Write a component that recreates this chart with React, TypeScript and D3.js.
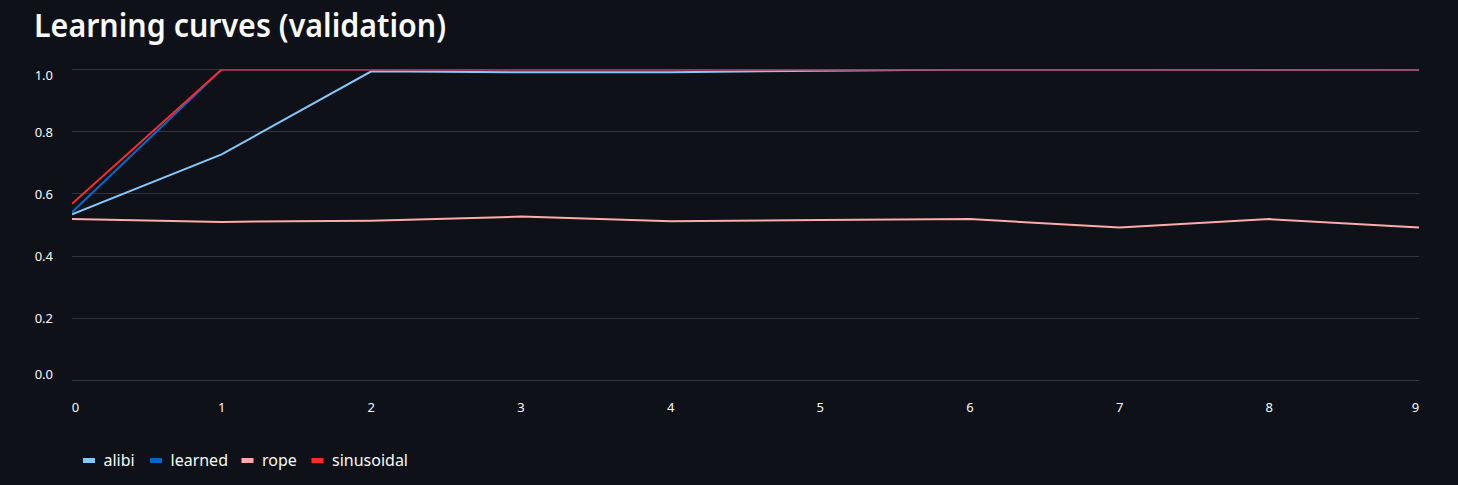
import React from "react";
import * as d3 from "d3";

const epochs = [0, 1, 2, 3, 4, 5, 6, 7, 8, 9];
const alibi = [0.534, 0.727, 0.994, 0.991, 0.991, 0.996, 1.0, 1.0, 0.999, 1.0];
const learned = [0.541, 1.0, 1.0, 1.0, 1.0, 1.0, 1.0, 1.0, 1.0, 1.0];
const rope = [0.519, 0.51, 0.514, 0.527, 0.512, 0.516, 0.519, 0.492, 0.519, 0.492];
const sinusoidal = [0.568, 1.0, 1.0, 1.0, 1.0, 1.0, 1.0, 1.0, 1.0, 1.0];
const seriesNames = ["alibi", "learned", "rope", "sinusoidal"];
const seriesColors = ["#83c9ff", "#0068c9", "#ffabab", "#ff2b2b"];
const yTicks = [0, 0.2, 0.4, 0.6, 0.8, 1.0];
const title = "Learning curves (validation)";

const W = 1458;
const H = 485;
const left = 72;
const right = 1419;
const top = 69.5;
const bottom = 380.5;
const font = "'Source Sans Pro', 'Noto Sans', 'Open Sans', sans-serif";

export default function App() {
  const x = d3.scaleLinear().domain([0, 9]).range([left, right]);
  const y = d3.scaleLinear().domain([0, 1]).range([bottom, top]);
  const line = d3
    .line<number>()
    .x((_, i) => x(epochs[i]))
    .y((d) => y(d));
  const data = [alibi, learned, rope, sinusoidal];
  const legendX = [83, 150, 241.5, 311.5];
  return (
    <div style={{ position: "fixed", left: 0, top: 0, width: W, height: H, background: "#0e1117" }}>
      <svg width={W} height={H} style={{ display: "block" }}>
        <rect x={0} y={0} width={W} height={H} fill="#0e1117" />
        <text x={34} y={37} fill="#fafafa" fontFamily={font} fontWeight={600} fontSize={33} textLength={412} lengthAdjust="spacingAndGlyphs">
          {title}
        </text>
        <defs>
          <clipPath id="plotclip">
            <rect x={left} y={top} width={right - left} height={bottom - top} />
          </clipPath>
        </defs>
        {yTicks.map((t, i) => (
          <g key={i}>
            <line x1={left} x2={right} y1={Math.round(y(t) - 0.5) + 0.5} y2={Math.round(y(t) - 0.5) + 0.5} stroke="#31333f" strokeWidth={1} />
            <text
              x={53}
              y={Math.round(y(t)) + (i === 0 ? -2 : i === yTicks.length - 1 ? 10 : 5)}
              textAnchor="end"
              fill="#fafafa"
              fontFamily={font}
              fontSize={13}
            >
              {d3.format(".1f")(t)}
            </text>
          </g>
        ))}
        {epochs.map((e, i) => (
          <text
            key={i}
            x={x(e) + (i === 0 ? 3.5 : i === epochs.length - 1 ? -3.5 : 0)}
            y={412}
            textAnchor="middle"
            fill="#fafafa"
            fontFamily={font}
            fontSize={13}
          >
            {e}
          </text>
        ))}
        <g clipPath="url(#plotclip)">
          {data.map((d, i) => (
            <path key={i} d={line(d) || ""} fill="none" stroke={seriesColors[i]} strokeWidth={2} />
          ))}
        </g>
        {seriesNames.map((n, i) => (
          <g key={n}>
            <rect x={legendX[i]} y={458} width={12} height={5} fill={seriesColors[i]} />
            <text x={legendX[i] + 20.5} y={466} fill="#fafafa" fontFamily={font} fontSize={16}>
              {n}
            </text>
          </g>
        ))}
      </svg>
    </div>
  );
}
